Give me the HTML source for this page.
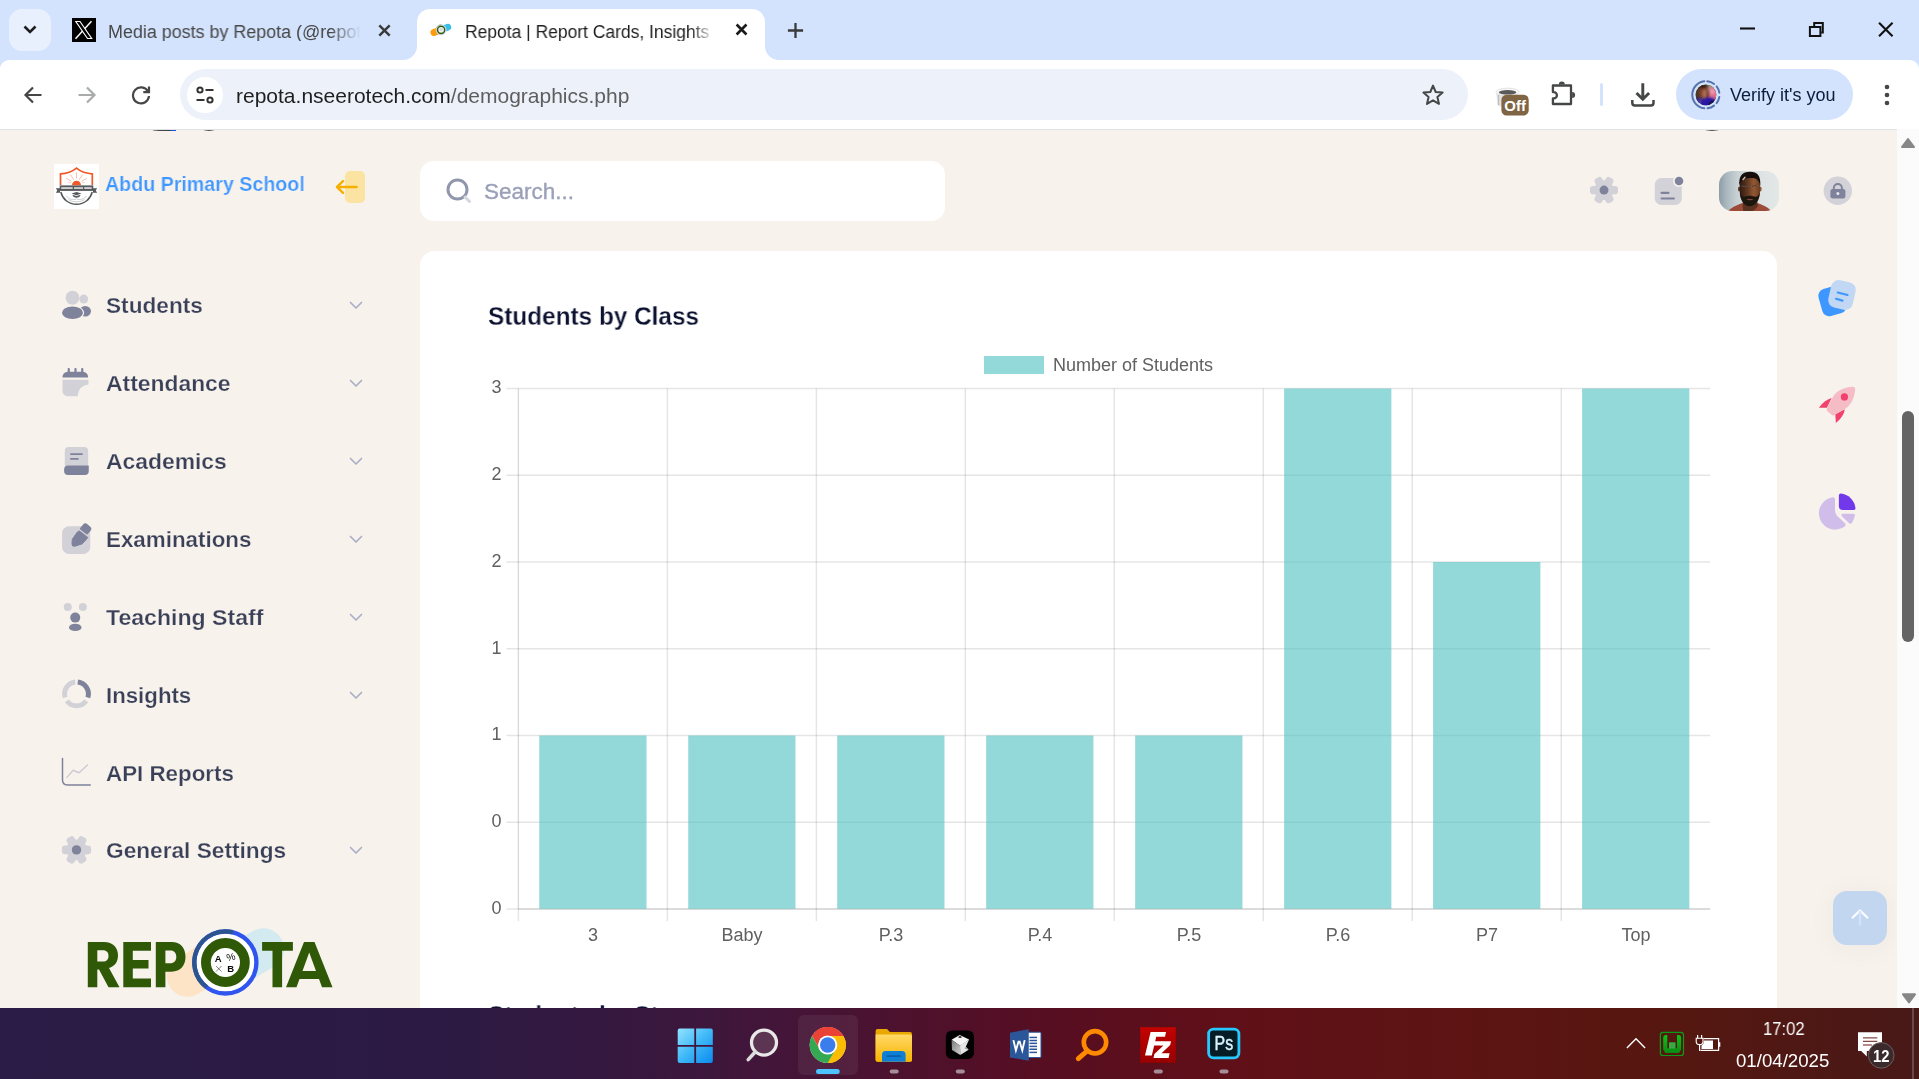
<!DOCTYPE html>
<html>
<head>
<meta charset="utf-8">
<title>Repota</title>
<style>
*{box-sizing:border-box;margin:0;padding:0}
html,body{width:1919px;height:1079px;overflow:hidden;background:#f7f2ec;font-family:"Liberation Sans",sans-serif}
.abs{position:absolute}
#root{position:relative;width:1919px;height:1079px;overflow:hidden}
.t{position:absolute;white-space:nowrap;line-height:1;will-change:transform}
/* chrome */
#tabstrip{left:0;top:0;width:1919px;height:72px;background:#d3e3fd}
#toolbar{left:0;top:60px;width:1919px;height:69px;background:#fff;border-radius:9px 9px 0 0}
#tbline{left:0;top:129px;width:1919px;height:1px;background:#dfe3e2}
#omni{left:180px;top:69px;width:1288px;height:51px;border-radius:26px;background:#edf2fa}
#page{left:0;top:130px;width:1897px;height:878px;background:#f7f2ec;overflow:hidden}
#sbar{left:1897px;top:129px;width:22px;height:879px;background:#fbfbfb}
#taskbar{left:0;top:1008px;width:1919px;height:71px;background:linear-gradient(90deg,#2a1c46 0%,#2c1a43 24%,#37183f 33%,#441538 41%,#4e112c 48%,#570e21 55%,#5f0f18 63%,#5d1413 76%,#561710 87%,#4c1815 96%,#471918 100%)}
.mi{will-change:transform;position:absolute;left:106px;transform-origin:left;font-size:21.5px;font-weight:bold;color:#3a4058;-webkit-text-stroke:.25px #f7f2ec;white-space:nowrap;line-height:1}
.yl{will-change:transform;position:absolute;font-size:18px;color:#606060;line-height:1;white-space:nowrap}
</style>
</head>
<body>
<div id="root">
<!-- TABSTRIP -->
<div class="abs" id="tabstrip"></div>
<div class="abs" id="toolbar"></div>
<div class="abs" id="tbline"></div>
<div class="abs" id="omni"></div>

<!-- tab search button -->
<div class="abs" style="left:9px;top:9px;width:42px;height:42px;border-radius:13px;background:#e9f0fd"></div>
<svg class="abs" style="left:22px;top:23px" width="16" height="14" viewBox="0 0 16 14"><path d="M2.5 3.5 L8 9 L13.5 3.5" fill="none" stroke="#1f1f1f" stroke-width="2.6"/></svg>
<!-- inactive tab -->
<div class="abs" style="left:72px;top:18px;width:24px;height:24px;background:#000"></div>
<svg class="abs" style="left:72px;top:18px" width="24" height="24" viewBox="0 0 24 24"><path d="M19.500 3.200 L3.500 20.800" stroke="#fff" stroke-width="1.450"/><path d="M3.800 3.500 L8 3.500 L19.700 20.500 L15.500 20.500 Z" fill="#000" stroke="#fff" stroke-width="1.150"/></svg>
<div class="t" id="tab1txt" style="left:108px;top:22.800px;font-size:18px;color:#474747;transform:scaleX(.995);transform-origin:left;width:254px;overflow:hidden;-webkit-mask-image:linear-gradient(90deg,#000 88%,transparent 100%)">Media posts by Repota (@repota</div>
<svg class="abs" style="left:376.600px;top:22.500px" width="15" height="15" viewBox="0 0 15 15"><path d="M2.300 2.300 L12.700 12.700 M12.700 2.300 L2.300 12.700" stroke="#3a3a3a" stroke-width="2.450"/></svg>
<!-- active tab -->
<div class="abs" style="left:417px;top:9px;width:348px;height:52px;background:#fff;border-radius:13px 13px 0 0"></div>
<svg class="abs" style="left:403px;top:46px" width="14" height="14" viewBox="0 0 14 14"><path d="M14 0 V14 H0 A14 14 0 0 0 14 0Z" fill="#fff"/></svg>
<svg class="abs" style="left:765px;top:46px" width="14" height="14" viewBox="0 0 14 14"><path d="M0 0 V14 H14 A14 14 0 0 1 0 0Z" fill="#fff"/></svg>
<!-- repota favicon -->
<svg class="abs" style="left:428px;top:18px" width="26" height="24" viewBox="428 18 26 24"><path d="M433.900 32.500 L441 29.800" stroke="#ff9a0a" stroke-width="6.800" stroke-linecap="round"/><path d="M447.900 27.100 L441 29.800" stroke="#37bfe8" stroke-width="6.600" stroke-linecap="round"/><circle cx="441.100" cy="29.800" r="5.100" fill="#fdfdff" stroke="#b7c3f7" stroke-width=".7"/><path d="M436.500 27.600 A5.100 5.100 0 0 1 441.100 24.700" fill="none" stroke="#9ab38a" stroke-width=".7"/><circle cx="441.100" cy="29.800" r="3.600" fill="#f1f1f3" stroke="#2e5c08" stroke-width="1.500"/><circle cx="441.100" cy="29.500" r="1.500" fill="#d5d5da"/></svg>
<div class="t" id="tab2txt" style="left:465px;top:22.800px;font-size:18px;color:#1f1f1f;width:258px;overflow:hidden;transform:scaleX(.97);transform-origin:left;-webkit-mask-image:linear-gradient(90deg,#000 90%,transparent 100%)">Repota | Report Cards, Insights &amp; More</div>
<svg class="abs" style="left:733.500px;top:22.400px" width="15" height="15" viewBox="0 0 15 15"><path d="M2.600 2.550 L12.500 12.450 M12.500 2.550 L2.600 12.450" stroke="#1b1b1b" stroke-width="2.650"/></svg>
<!-- new tab -->
<svg class="abs" style="left:786.500px;top:21.550px" width="17" height="17" viewBox="0 0 17 17"><path d="M8.500 1 V16 M.9 8.500 H16.100" stroke="#3a3a3a" stroke-width="2.300"/></svg>
<!-- window controls -->
<svg class="abs" style="left:1740px;top:27.100px" width="15" height="3" viewBox="0 0 15 3"><path d="M0 1.500 H15" stroke="#111" stroke-width="2.100"/></svg>
<svg class="abs" style="left:1808px;top:21px" width="18" height="18" viewBox="0 0 18 18"><path d="M1.900 5.900 H12.400 V15 H1.900 Z" fill="none" stroke="#111" stroke-width="2"/><path d="M6.200 5 V2 H14.800 V11.600 H13.200" fill="none" stroke="#111" stroke-width="2"/></svg>
<svg class="abs" style="left:1876px;top:21px" width="18" height="18" viewBox="0 0 18 18"><path d="M3.050 1.750 L16.550 15.250 M16.550 1.750 L3.050 15.250" stroke="#111" stroke-width="2.100"/></svg>
<!-- nav buttons -->
<svg class="abs" style="left:23px;top:85px" width="20" height="20" viewBox="0 0 20 20"><path d="M18.5 10 H3 M10 2.5 L2.5 10 L10 17.5" fill="none" stroke="#444746" stroke-width="2.2"/></svg>
<svg class="abs" style="left:77px;top:85px" width="20" height="20" viewBox="0 0 20 20"><path d="M1.5 10 H17 M10 2.5 L17.5 10 L10 17.5" fill="none" stroke="#a9abaa" stroke-width="2.2"/></svg>
<svg class="abs" style="left:131px;top:85px" width="20" height="20" viewBox="0 0 20 20"><path d="M17 6.5 A8 8 0 1 0 18 11" fill="none" stroke="#444746" stroke-width="2.2"/><path d="M18 1.5 V7.2 H12.3" fill="none" stroke="#444746" stroke-width="2.2"/></svg>
<!-- site info -->
<div class="abs" style="left:187px;top:77px;width:36px;height:36px;border-radius:18px;background:#fff"></div>
<svg class="abs" style="left:195px;top:85px" width="20" height="20" viewBox="0 0 20 20"><circle cx="5" cy="5" r="2.6" fill="none" stroke="#333" stroke-width="2"/><path d="M10.5 5 H18.5" stroke="#333" stroke-width="2"/><circle cx="15" cy="15" r="2.6" fill="none" stroke="#333" stroke-width="2"/><path d="M1.5 15 H9.5" stroke="#333" stroke-width="2"/></svg>
<div class="t" id="url" style="left:236px;top:84.700px;font-size:21px;color:#1f1f1f">repota.nseerotech.com<span style="color:#5e5e5e">/demographics.php</span></div>
<!-- star -->
<svg class="abs" style="left:1421px;top:83px" width="24" height="24" viewBox="0 0 24 24"><path d="M12 2.6 L14.7 9 L21.6 9.6 L16.4 14.1 L18 20.9 L12 17.3 L6 20.9 L7.6 14.1 L2.4 9.6 L9.3 9 Z" fill="none" stroke="#444746" stroke-width="2" stroke-linejoin="round"/></svg>
<!-- extension cup w/ Off -->
<svg class="abs" style="left:1490px;top:80px" width="44" height="40" viewBox="1490 80 44 40"><path d="M1496.200 92.500 L1497.500 104.500 Q1498 106.500 1500.500 106.500 H1506 V92.500Z" fill="#e2e2e2"/><path d="M1498.500 95 V105" stroke="#bdbdbd" stroke-width="1.200"/><ellipse cx="1507.600" cy="92.100" rx="11.600" ry="3.900" fill="#fafafa" stroke="#d9d9d9" stroke-width=".8"/><ellipse cx="1507.600" cy="92.300" rx="8.800" ry="2.300" fill="#5a5a5a"/><rect x="1501.400" y="94.700" width="27.300" height="20.800" rx="5.200" fill="#7f6544"/><text x="1515.100" y="110.900" font-family="Liberation Sans" font-weight="bold" font-size="14.500" fill="#fff" text-anchor="middle" textLength="21.600" lengthAdjust="spacingAndGlyphs">Off</text></svg>
<!-- puzzle -->
<svg class="abs" style="left:1546px;top:76px" width="34" height="34" viewBox="1546 76 34 34"><path d="M1552.900 85.500 H1571 V104 H1552.900 V98.300 H1553.800 A3.100 3.100 0 0 0 1553.800 92.100 H1552.900 Z" fill="none" stroke="#444746" stroke-width="2.300" stroke-linejoin="round"/><path d="M1558.800 84.400 A3 3 0 0 1 1564.800 84.400Z" fill="#444746"/><path d="M1572.100 91.900 A3 3 0 0 1 1572.100 97.900Z" fill="#444746"/></svg>
<div class="abs" style="left:1600.400px;top:82.700px;width:3px;height:23.400px;border-radius:2px;background:#d3e3fd"></div>
<!-- download -->
<svg class="abs" style="left:1626px;top:78px" width="34" height="34" viewBox="1626 78 34 34"><path d="M1642.800 83.200 V98 M1636.500 93 L1642.800 99.300 L1649.100 93" fill="none" stroke="#444746" stroke-width="2.900"/><path d="M1632.300 100 V103 Q1632.300 105.400 1634.700 105.400 H1651.100 Q1653.500 105.400 1653.500 103 V100" fill="none" stroke="#444746" stroke-width="2.500"/></svg>
<!-- verify pill -->
<div class="abs" style="left:1676px;top:69px;width:177px;height:51px;border-radius:26px;background:#d3e3fd"></div>
<svg class="abs" style="left:1688px;top:77px" width="36" height="36" viewBox="1688 77 36 36"><defs><clipPath id="cav"><circle cx="1705.900" cy="94.800" r="10.400"/></clipPath><filter id="cavb" x="-20%" y="-20%" width="140%" height="140%"><feGaussianBlur stdDeviation=".9"/></filter></defs><path d="M1707.32 81.27 A13.6 13.6 0 0 1 1714.08 83.94 M1716.62 86.43 A13.6 13.6 0 0 1 1719.33 92.67 M1719.33 96.93 A13.6 13.6 0 0 1 1716.62 103.17 M1714.08 105.66 A13.6 13.6 0 0 1 1707.56 108.30 M1704.24 108.30 A13.6 13.6 0 0 1 1704.24 81.30" fill="none" stroke="#5572ad" stroke-width="2" stroke-linecap="round"/><g clip-path="url(#cav)"><rect x="1694" y="83" width="24" height="24" fill="#4b3a28"/><g filter="url(#cavb)"><rect x="1708" y="83" width="10" height="8" fill="#8d9a7c"/><path d="M1709 87 H1718 V101 H1709Z" fill="#de6f8b"/><circle cx="1712.500" cy="91.500" r="2.500" fill="#ee9aae"/><ellipse cx="1703.600" cy="92" rx="4.300" ry="6.800" fill="#86432f"/><ellipse cx="1704.600" cy="93.500" rx="2" ry="4" fill="#b06e55"/><ellipse cx="1702.500" cy="86.500" rx="3.800" ry="2" fill="#3a1f18"/><path d="M1694 107 V100.500 C1697 97.500 1700 97 1703 99.500 C1706 96.500 1711 96 1716 99.500 V107Z" fill="#2c14a6"/><path d="M1709 102 L1715 100 V107 H1708Z" fill="#12102e"/><path d="M1700 99 L1699.500 104" stroke="#8d8a7a" stroke-width=".8"/></g></g></svg>
<div class="t" id="verify" style="left:1730px;top:86px;font-size:18px;color:#0b1c3c">Verify it's you</div>
<svg class="abs" style="left:1883px;top:83px" width="8" height="24" viewBox="0 0 8 24"><circle cx="4" cy="4" r="2.3" fill="#444746"/><circle cx="4" cy="12" r="2.3" fill="#444746"/><circle cx="4" cy="20" r="2.3" fill="#444746"/></svg>
<!-- PAGE -->
<div class="abs" id="page"></div>

<!-- SIDEBAR -->
<div class="abs" style="left:54px;top:164px;width:45px;height:45px;background:#fff"></div>
<svg class="abs" style="left:54px;top:164px" width="45" height="45" viewBox="54 164 45 45"><g fill="none">
<path d="M60.500 185 V173.800 C67 173.700 72.500 171.500 76.500 168.200 C80.500 171.500 86 173.700 92.300 173.800 V185" stroke="#f05a28" stroke-width="1.700"/>
<g stroke="#f6a486" stroke-width=".7"><path d="M76.500 172.500 V178.500"/><path d="M70.500 174.500 L73.800 179.800"/><path d="M82.500 174.500 L79.200 179.800"/><path d="M66.200 178.300 L71.500 181.200"/><path d="M86.800 178.300 L81.500 181.200"/><path d="M68 182.500 L71 182.800 M85 182.500 L82 182.800" stroke-width=".5"/></g>
<path d="M60.800 192 C62.500 199 68.500 204.300 76.500 204.300 C84.500 204.300 90.500 199 92.200 192" stroke="#55585a" stroke-width="1.500"/>
<g stroke="#b9babb" stroke-width=".7"><path d="M66.500 196 C69 199.500 73 200 76.500 199 C80 200 84 199.500 86.500 196"/><path d="M68.500 199.500 C71.500 202.500 81.500 202.500 84.500 199.500"/></g>
</g>
<path d="M72 185.300 A4.500 4.500 0 0 1 81 185.300Z" fill="#f05a28"/>
<path d="M55.800 188.300 H60 V192.800 H55.800 L57.300 190.500Z M97.200 188.300 H93 V192.800 H97.200 L95.700 190.500Z" fill="#55585a"/>
<rect x="59.700" y="185.400" width="33.600" height="5.500" fill="#56595b"/>
<rect x="61.200" y="187.200" width="11.500" height="1.700" fill="#dcdcdc"/><rect x="74" y="187.200" width="9" height="1.700" fill="#d6d6d6"/><rect x="84.200" y="187.200" width="7.500" height="1.700" fill="#dcdcdc"/>
<path d="M71.500 193.600 L76.500 192 L81.500 193.600 L76.500 195.300Z" fill="#55585a"/><path d="M72.500 194.800 C72.800 197 74.500 197.800 76.500 197.800 C78.500 197.800 80.200 197 80.500 194.800 L76.500 196Z" fill="#5d6062"/>
</svg>
<div class="t" id="school" style="left:105px;top:173.800px;font-size:20.200px;font-weight:bold;color:#3e97ff;-webkit-text-stroke:.2px #f7f2ec;transform:scaleX(.973);transform-origin:left">Abdu Primary School</div>
<div class="abs" style="left:345px;top:171px;width:20px;height:32px;border-radius:5px;background:#fbe3a1"></div>
<svg class="abs" style="left:334px;top:177px" width="26" height="20" viewBox="0 0 26 20"><path d="M22.500 10 H3.500 M9 4.200 L3 10 L9 15.800" fill="none" stroke="#f6b100" stroke-width="2.500" stroke-linecap="round" stroke-linejoin="round"/></svg>
<div class="mi" style="top:295.7px;transform:scaleX(1.053)">Students</div>
<svg class="abs" style="left:349px;top:301px" width="14" height="9" viewBox="0 0 14 9"><path d="M1.5 1.5 L7 7 L12.5 1.5" fill="none" stroke="#a9afc6" stroke-width="1.7" stroke-linecap="round" stroke-linejoin="round"/></svg>
<div class="mi" style="top:373.7px;transform:scaleX(1.064)">Attendance</div>
<svg class="abs" style="left:349px;top:379px" width="14" height="9" viewBox="0 0 14 9"><path d="M1.5 1.5 L7 7 L12.5 1.5" fill="none" stroke="#a9afc6" stroke-width="1.7" stroke-linecap="round" stroke-linejoin="round"/></svg>
<div class="mi" style="top:451.7px;transform:scaleX(1.064)">Academics</div>
<svg class="abs" style="left:349px;top:457px" width="14" height="9" viewBox="0 0 14 9"><path d="M1.5 1.5 L7 7 L12.5 1.5" fill="none" stroke="#a9afc6" stroke-width="1.7" stroke-linecap="round" stroke-linejoin="round"/></svg>
<div class="mi" style="top:529.7px;transform:scaleX(1.040)">Examinations</div>
<svg class="abs" style="left:349px;top:535px" width="14" height="9" viewBox="0 0 14 9"><path d="M1.5 1.5 L7 7 L12.5 1.5" fill="none" stroke="#a9afc6" stroke-width="1.7" stroke-linecap="round" stroke-linejoin="round"/></svg>
<div class="mi" style="top:607.7px;transform:scaleX(1.074)">Teaching Staff</div>
<svg class="abs" style="left:349px;top:613px" width="14" height="9" viewBox="0 0 14 9"><path d="M1.5 1.5 L7 7 L12.5 1.5" fill="none" stroke="#a9afc6" stroke-width="1.7" stroke-linecap="round" stroke-linejoin="round"/></svg>
<div class="mi" style="top:685.7px;transform:scaleX(1.034)">Insights</div>
<svg class="abs" style="left:349px;top:691px" width="14" height="9" viewBox="0 0 14 9"><path d="M1.5 1.5 L7 7 L12.5 1.5" fill="none" stroke="#a9afc6" stroke-width="1.7" stroke-linecap="round" stroke-linejoin="round"/></svg>
<div class="mi" style="top:763.7px;transform:scaleX(1.039)">API Reports</div>
<div class="mi" style="top:840.7px;transform:scaleX(1.054)">General Settings</div>
<svg class="abs" style="left:349px;top:846px" width="14" height="9" viewBox="0 0 14 9"><path d="M1.5 1.5 L7 7 L12.5 1.5" fill="none" stroke="#a9afc6" stroke-width="1.7" stroke-linecap="round" stroke-linejoin="round"/></svg>

<!-- students icon -->
<svg class="abs" style="left:60px;top:289px" width="34" height="34" viewBox="0 0 34 34"><circle cx="23.75" cy="10.1" r="4.5" fill="#d3d1d8"/><ellipse cx="25.2" cy="22.3" rx="5.8" ry="5.2" fill="#7e829a"/><ellipse cx="12.5" cy="23.75" rx="11.6" ry="7.2" fill="#f7f2ec"/><circle cx="12.5" cy="8.75" r="6.9" fill="#d3d1d8"/><ellipse cx="12.5" cy="23.75" rx="10.5" ry="6.2" fill="#7e829a"/></svg>
<!-- attendance icon -->
<svg class="abs" style="left:60px;top:366px" width="34" height="34" viewBox="0 0 34 34"><path d="M2.5 13.75 H28.5 V18.5 C21.5 19.5 18.500 23 17.75 30.25 H8 A5.5 5.5 0 0 1 2.5 24.75Z" fill="#d3d1d8"/><path d="M2.5 11.6 V11 A5.200 5.200 0 0 1 7.700 5.8 H22.900 A5.200 5.200 0 0 1 28.100 11 V11.600Z" fill="#7e829a"/><rect x="7.650" y="2.100" width="2.200" height="5" rx=".8" fill="#7e829a"/><rect x="14.400" y="2.100" width="2.200" height="5" rx=".8" fill="#7e829a"/><rect x="21.150" y="2.100" width="2.200" height="5" rx=".8" fill="#7e829a"/></svg>
<!-- academics icon -->
<svg class="abs" style="left:60px;top:444px" width="34" height="34" viewBox="0 0 34 34"><rect x="4.750" y="3" width="23.400" height="21" rx="4" fill="#d3d1d8"/><path d="M4.100 25.400 Q4.100 21.400 8.100 21.400 H28.750 V27 A4 4 0 0 1 24.750 31 H8.100 A4 4 0 0 1 4.100 27Z" fill="#7e829a"/><rect x="10" y="9.150" width="12.900" height="1.900" rx=".95" fill="#7e829a"/><rect x="10" y="13.950" width="8.750" height="1.900" rx=".95" fill="#7e829a"/></svg>
<!-- examinations icon -->
<svg class="abs" style="left:60px;top:522px" width="34" height="34" viewBox="0 0 34 34"><rect x="2.100" y="4.250" width="28.150" height="27.850" rx="7.200" fill="#d3d1d8"/><rect x="20.700" y="2.200" width="9.800" height="9.800" rx="3.200" fill="#7e829a" transform="rotate(40 25.600 7.100)"/><path d="M17.200 10.300 L19.800 8.600 L28.200 15.200 L22.300 21.800 L14.600 24.300 Q12 24.600 12 22 L12.300 17.300Z" fill="#7e829a" stroke="#7e829a" stroke-width="1" stroke-linejoin="round"/><path d="M19 7.300 L29.500 15.600" stroke="#d3d1d8" stroke-width="1.300"/></svg>
<!-- teaching staff icon -->
<svg class="abs" style="left:60px;top:600px" width="34" height="34" viewBox="0 0 34 34"><circle cx="7.750" cy="7" r="4" fill="#d3d1d8"/><circle cx="22.900" cy="7" r="4" fill="#d3d1d8"/><circle cx="15.250" cy="17.600" r="5" fill="#7e829a"/><ellipse cx="15.250" cy="27.400" rx="6.250" ry="3.700" fill="#7e829a"/></svg>
<!-- insights icon -->
<svg class="abs" style="left:60px;top:678px" width="34" height="34" viewBox="0 0 34 34"><g fill="none" stroke-width="5"><path d="M17.74 4.07 A11.9 11.9 0 0 1 27.82 19.58" stroke="#7e829a"/><path d="M26.13 22.89 A11.9 11.9 0 0 1 6.87 22.89" stroke="#d3d1d8"/><path d="M5.18 19.58 A11.9 11.9 0 0 1 15.26 4.07" stroke="#d3d1d8"/></g></svg>
<!-- api reports icon -->
<svg class="abs" style="left:60px;top:756px" width="34" height="34" viewBox="0 0 34 34"><path d="M2.500 2.600 V24 Q2.500 28.900 7.500 28.900 H30.250" fill="none" stroke="#7e829a" stroke-width="1.500" stroke-linecap="round"/><path d="M6.900 21.400 L13.100 14.250 L19 16.750 L27.500 8.900" fill="none" stroke="#cdcbd3" stroke-width="1.400" stroke-linecap="round" stroke-linejoin="round"/></svg>
<!-- settings icon -->
<svg class="abs" style="left:60px;top:833px" width="34" height="34" viewBox="0 0 34 34"><g transform="translate(16.500 16.900)"><g transform="rotate(30)"><g fill="#d3d1d8"><circle r="10.3"/><g id="tg"><rect x="-4.3" y="-14.6" width="8.6" height="8" rx="3.2"/></g><use href="#tg" transform="rotate(60)"/><use href="#tg" transform="rotate(120)"/><use href="#tg" transform="rotate(180)"/><use href="#tg" transform="rotate(240)"/><use href="#tg" transform="rotate(300)"/></g></g><circle r="4.7" fill="#7e829a"/></g></svg>
<!-- HEADER -->
<div class="abs" style="left:420px;top:161px;width:525px;height:60px;border-radius:14px;background:#fff"></div>
<svg class="abs" style="left:445px;top:177px" width="28" height="28" viewBox="0 0 28 28"><circle cx="12.500" cy="12.500" r="9.500" fill="none" stroke="#9097ad" stroke-width="3"/><path d="M20 20 L24.500 24.500" stroke="#d5d7e0" stroke-width="3" stroke-linecap="round"/></svg>
<div class="t" id="search" style="left:484px;top:181px;font-size:22.5px;color:#9aa0b8;-webkit-text-stroke:.35px #9aa0b8">Search...</div>
<!-- CARD -->
<div class="abs" style="left:420px;top:251px;width:1357px;height:800px;border-radius:14.500px;background:#fff"></div>
<div class="t" id="title" style="left:488px;top:303.800px;font-size:25px;font-weight:bold;color:#0c1230;-webkit-text-stroke:.28px #fff;transform:scaleX(.9735);transform-origin:left">Students by Class</div>
<div class="t" id="title2" style="left:488px;top:1003.400px;font-size:25px;font-weight:bold;color:#0c1230;-webkit-text-stroke:.28px #fff;transform:scaleX(.9735);transform-origin:left">Students by Stream</div>
<!-- legend -->
<div class="abs" style="left:984px;top:356px;width:60px;height:18px;background:#93d9d9"></div>
<div class="yl" id="legend" style="left:1053px;top:355.700px">Number of Students</div>
<svg class="abs" style="left:0;top:0" width="1919" height="1079" viewBox="0 0 1919 1079">
<rect x="506.4" y="387.75" width="1203.8000000000002" height="1.5" fill="rgba(0,0,0,0.1)"/>
<rect x="506.4" y="474.50" width="1203.8000000000002" height="1.5" fill="rgba(0,0,0,0.1)"/>
<rect x="506.4" y="561.25" width="1203.8000000000002" height="1.5" fill="rgba(0,0,0,0.1)"/>
<rect x="506.4" y="648.00" width="1203.8000000000002" height="1.5" fill="rgba(0,0,0,0.1)"/>
<rect x="506.4" y="734.75" width="1203.8000000000002" height="1.5" fill="rgba(0,0,0,0.1)"/>
<rect x="506.4" y="821.50" width="1203.8000000000002" height="1.5" fill="rgba(0,0,0,0.1)"/>
<rect x="506.4" y="908.25" width="1203.8000000000002" height="1.5" fill="rgba(0,0,0,0.1)"/>
<rect x="517.65" y="388.5" width="1.5" height="532.5" fill="rgba(0,0,0,0.1)"/>
<rect x="666.62" y="388.5" width="1.5" height="532.5" fill="rgba(0,0,0,0.1)"/>
<rect x="815.60" y="388.5" width="1.5" height="532.5" fill="rgba(0,0,0,0.1)"/>
<rect x="964.58" y="388.5" width="1.5" height="532.5" fill="rgba(0,0,0,0.1)"/>
<rect x="1113.55" y="388.5" width="1.5" height="532.5" fill="rgba(0,0,0,0.1)"/>
<rect x="1262.53" y="388.5" width="1.5" height="532.5" fill="rgba(0,0,0,0.1)"/>
<rect x="1411.50" y="388.5" width="1.5" height="532.5" fill="rgba(0,0,0,0.1)"/>
<rect x="1560.48" y="388.5" width="1.5" height="532.5" fill="rgba(0,0,0,0.1)"/>
<rect x="518.4" y="908.25" width="1191.8000000000002" height="1.5" fill="rgba(0,0,0,0.1)"/>
<rect x="517.65" y="388.5" width="1.5" height="520.5" fill="rgba(0,0,0,0.05)"/>
<rect x="539.26" y="735.50" width="107.26" height="173.30" fill="rgba(75,192,192,0.6)"/>
<rect x="688.23" y="735.50" width="107.26" height="173.30" fill="rgba(75,192,192,0.6)"/>
<rect x="837.21" y="735.50" width="107.26" height="173.30" fill="rgba(75,192,192,0.6)"/>
<rect x="986.18" y="735.50" width="107.26" height="173.30" fill="rgba(75,192,192,0.6)"/>
<rect x="1135.16" y="735.50" width="107.26" height="173.30" fill="rgba(75,192,192,0.6)"/>
<rect x="1284.13" y="388.50" width="107.26" height="520.30" fill="rgba(75,192,192,0.6)"/>
<rect x="1433.11" y="562.00" width="107.26" height="346.80" fill="rgba(75,192,192,0.6)"/>
<rect x="1582.08" y="388.50" width="107.26" height="520.30" fill="rgba(75,192,192,0.6)"/>
</svg>
<div class="yl" style="left:532.9px;width:120px;text-align:center;top:925.6px">3</div>
<div class="yl" style="left:681.9px;width:120px;text-align:center;top:925.6px">Baby</div>
<div class="yl" style="left:830.8px;width:120px;text-align:center;top:925.6px">P.3</div>
<div class="yl" style="left:979.8px;width:120px;text-align:center;top:925.6px">P.4</div>
<div class="yl" style="left:1128.8px;width:120px;text-align:center;top:925.6px">P.5</div>
<div class="yl" style="left:1277.8px;width:120px;text-align:center;top:925.6px">P.6</div>
<div class="yl" style="left:1426.7px;width:120px;text-align:center;top:925.6px">P7</div>
<div class="yl" style="left:1575.7px;width:120px;text-align:center;top:925.6px">Top</div>
<div class="yl" style="left:440px;width:61.6px;text-align:right;top:378.4px">3</div>
<div class="yl" style="left:440px;width:61.6px;text-align:right;top:465.1px">2</div>
<div class="yl" style="left:440px;width:61.6px;text-align:right;top:551.9px">2</div>
<div class="yl" style="left:440px;width:61.6px;text-align:right;top:638.6px">1</div>
<div class="yl" style="left:440px;width:61.6px;text-align:right;top:725.4px">1</div>
<div class="yl" style="left:440px;width:61.6px;text-align:right;top:812.1px">0</div>
<div class="yl" style="left:440px;width:61.6px;text-align:right;top:898.9px">0</div>
<!-- HEADER RIGHT ICONS -->
<svg class="abs" style="left:1587px;top:173px" width="34" height="34" viewBox="0 0 34 34"><g transform="translate(17 17.100) scale(.96)"><g transform="rotate(30)"><g fill="#d3d1d8"><circle r="10.3"/><g id="tg2"><rect x="-4.3" y="-14.6" width="8.6" height="8" rx="3.2"/></g><use href="#tg2" transform="rotate(60)"/><use href="#tg2" transform="rotate(120)"/><use href="#tg2" transform="rotate(180)"/><use href="#tg2" transform="rotate(240)"/><use href="#tg2" transform="rotate(300)"/></g></g><circle r="4.7" fill="#7e829a"/></g></svg>
<svg class="abs" style="left:1650px;top:172px" width="38" height="38" viewBox="0 0 38 38"><rect x="4.800" y="6" width="27" height="27" rx="6.500" fill="#d4d2d9"/><circle cx="29" cy="9" r="6" fill="#f7f2ec"/><circle cx="29" cy="9" r="4.300" fill="#7e829a"/><rect x="10.500" y="19.800" width="9" height="2.200" rx="1.100" fill="#7e829a"/><rect x="10.500" y="25.400" width="14.500" height="2.200" rx="1.100" fill="#7e829a"/></svg>
<!-- avatar -->
<svg class="abs" style="left:1719px;top:171px" width="60" height="40" viewBox="1719 171 60 40"><defs><clipPath id="avc"><rect x="1719" y="171" width="60" height="40" rx="13.500"/></clipPath><linearGradient id="avg" x1="0" x2="1"><stop offset="0" stop-color="#8c9da6"/><stop offset=".12" stop-color="#a9b7bd"/><stop offset=".3" stop-color="#c7d1d4"/><stop offset=".6" stop-color="#dbe2e3"/><stop offset="1" stop-color="#e3e7e6"/></linearGradient><linearGradient id="skn" x1="0" x2="1"><stop offset="0" stop-color="#2e1a12"/><stop offset=".35" stop-color="#5c3521"/><stop offset=".7" stop-color="#935933"/><stop offset="1" stop-color="#6a3c22"/></linearGradient><filter id="avb" x="-10%" y="-10%" width="120%" height="120%"><feGaussianBlur stdDeviation=".45"/></filter></defs>
<g clip-path="url(#avc)"><rect x="1719" y="171" width="60" height="40" fill="url(#avg)"/><g filter="url(#avb)">
<path d="M1727 212 C1731 207.500 1736 205.500 1741.500 203.300 L1758 203.300 C1764 205.500 1768.500 207.500 1772 212Z" fill="#9c4c37"/>
<path d="M1743 200 H1757 L1758 206 C1756 209.500 1752 211.500 1750 212 L1743.500 212 C1742.500 208 1742.500 204 1743 200Z" fill="#5a3320"/>
<ellipse cx="1739.300" cy="189" rx="1.300" ry="2.600" fill="#5b3422"/><ellipse cx="1760.400" cy="189" rx="1.200" ry="2.600" fill="#8a5231"/>
<path d="M1739.800 184 C1739.800 176 1744 174.500 1749.800 174.500 C1755.600 174.500 1760 176 1760 184 V192 C1760 200 1755.500 206 1749.800 206 C1744.200 206 1739.800 200 1739.800 192Z" fill="url(#skn)"/>
<path d="M1739.300 186 C1738.500 176 1742.500 171.800 1750 171.800 C1757.500 171.800 1761 176 1760.300 186 C1759.500 181.500 1757.500 179 1754.500 178.300 C1751 177.600 1746 178.200 1743.500 179.300 C1741 180.800 1740 183 1739.300 186Z" fill="#17110f"/>
<path d="M1740 192 C1740.500 201 1744.500 206.300 1749.800 206.300 C1755.200 206.300 1759.300 201 1759.800 192 C1758.500 196.500 1756.500 197.300 1754.500 196.600 C1752.500 196 1751 195.800 1749.800 195.800 C1748.500 195.800 1747 196 1745 196.600 C1743 197.300 1741.300 196.500 1740 192Z" fill="#1c1310"/>
<path d="M1746.300 199.300 C1748.500 198.500 1751.500 198.500 1753.500 199.300 C1752 200.600 1748 200.600 1746.300 199.300Z" fill="#7a4a36"/>
<path d="M1742.300 186.600 C1743.500 185.700 1746.500 185.700 1747.800 186.600 M1752 186.600 C1753.300 185.700 1756.300 185.700 1757.600 186.600" fill="none" stroke="#1a100c" stroke-width="1"/>
<path d="M1741.500 186.200 H1748.300 M1751.500 186.200 H1758.500" stroke="#cdbfae" stroke-width=".5" opacity=".7"/>
<path d="M1743 179.500 L1745 177.300" stroke="#e5e0da" stroke-width="1.300" stroke-linecap="round" opacity=".85"/>
</g></g></svg>
<!-- lock -->
<svg class="abs" style="left:1823px;top:176px" width="30" height="30" viewBox="0 0 30 30"><circle cx="14.800" cy="14.800" r="14.200" fill="#d4d2d9"/><path d="M10.800 14 V12 A4.050 4.050 0 0 1 18.900 12 V14" fill="none" stroke="#7e829a" stroke-width="2"/><rect x="7.400" y="13" width="15" height="9.600" rx="2.300" fill="#7e829a"/><circle cx="14.900" cy="17.600" r="1.500" fill="#eceaee"/></svg>
<!-- RIGHT RAIL -->
<svg class="abs" style="left:1814px;top:276px" width="46" height="46" viewBox="0 0 46 46"><rect x="6" y="11" width="25" height="28" rx="7" fill="#3e97ff" transform="rotate(-16 18.500 25)"/><rect x="15.500" y="5" width="25" height="28" rx="7.500" fill="#c1d7f3" transform="rotate(13 28 19)"/><path d="M23.800 16.500 L33.500 19" stroke="#3e97ff" stroke-width="2.200" stroke-linecap="round"/><path d="M22 22.800 L28.500 24.600" stroke="#3e97ff" stroke-width="2.200" stroke-linecap="round"/></svg>
<svg class="abs" style="left:1814px;top:382px" width="46" height="46" viewBox="1814 382 46 46"><path d="M1818.900 407.800 C1822.500 402.800 1826.500 399.500 1831.700 398.100 L1826.900 407.800Z" fill="#f1416c"/><path d="M1835.300 414.200 L1844.700 409.200 C1844.300 414 1841 418.500 1835.900 422.900Z" fill="#f1416c"/><path d="M1853.200 386.700 C1848 386.600 1841.500 388.600 1837 392 C1834.800 393.800 1833.500 395.800 1832.500 397.700 L1826.900 408.600 Q1826.300 409.900 1827.300 410.900 L1831.800 415.100 Q1832.800 415.900 1834 415.300 L1845.600 408.500 C1849.500 405.500 1852.300 402.200 1853.700 397 C1854.500 394 1855.200 391 1855.100 388.700 Q1855 386.800 1853.200 386.700Z" fill="#f5bcc6"/><circle cx="1844.400" cy="396.900" r="3.600" fill="#f1416c"/></svg>
<svg class="abs" style="left:1814px;top:489px" width="46" height="46" viewBox="1814 489 46 46"><path d="M1832.500 497.300 Q1835 496.900 1835 499.500 V509.500 C1835 513 1836 515 1838 516.800 L1844.700 522.900 Q1846.500 524.700 1844.600 526.400 A16.200 16.200 0 1 1 1832.500 497.300Z" fill="#d0bdea"/><path d="M1838.900 495.400 Q1838.900 493.500 1840.800 493.600 A16.500 16.500 0 0 1 1855.500 508 Q1855.700 509.900 1853.800 509.900 H1842.600 Q1838.900 509.900 1838.900 506.200Z" fill="#7239ea"/><path d="M1842.800 513.800 H1853.500 Q1855.200 513.800 1854.900 515.500 A16.200 16.200 0 0 1 1851.800 523 Q1850.600 524.500 1849.200 523.200 L1841.900 516.300 Q1840.600 513.800 1842.800 513.800Z" fill="#d0bdea"/></svg>
<!-- scroll top button -->
<div class="abs" style="left:1833px;top:891px;width:54px;height:54px;border-radius:14px;background:#c2d6f0;box-shadow:0 3px 28px rgba(60,50,40,.05)"></div>
<svg class="abs" style="left:1848.500px;top:906.800px" width="22" height="24" viewBox="0 0 22 24"><path d="M3.700 10.500 L11 3.500 L18.300 10.500" fill="none" stroke="#fafcff" stroke-width="2.400" stroke-linecap="round" stroke-linejoin="round"/><path d="M11 5 V17.500" stroke="#d3e2f6" stroke-width="2.400" stroke-linecap="round"/></svg>
<!-- top remnants -->
<div class="abs" style="left:0;top:130px;width:1897px;height:1px;background:#f3f1ee"></div>
<div class="abs" style="left:153px;top:130px;width:23px;height:1px;background:linear-gradient(90deg,#a9abb5 0,#474b52 25%,#3a3e45 78%,#1a56e0 79%,#1a56e0 100%)"></div>
<div class="abs" style="left:204px;top:130px;width:10px;height:1px;background:linear-gradient(90deg,#c8c8c8,#4a4e55 50%,#c8c8c8)"></div>
<div class="abs" style="left:1706px;top:130px;width:12px;height:1px;background:linear-gradient(90deg,#c8c8c8,#4a4e55 50%,#c8c8c8)"></div>

<!-- REPOTA LOGO -->
<svg class="abs" style="left:80px;top:915px" width="260" height="92" viewBox="80 915 260 92">
<path d="M187.500 975.900 L228.900 952" stroke="#fde4c6" stroke-width="41.600" stroke-linecap="round"/>
<path d="M263.300 949.100 L221.900 973" stroke="#d3ebf0" stroke-width="41.600" stroke-linecap="round"/>
<circle cx="225.400" cy="962.500" r="31" fill="#fff" stroke="#2f55ee" stroke-width="4.300"/>
<path d="M206.700 987.300 A31 31 0 0 1 232.900 932.400" fill="none" stroke="#2c5590" stroke-width="4.300"/>
<circle cx="225.400" cy="962.500" r="19.500" fill="#fff" stroke="#2f5907" stroke-width="9.800"/>
<g fill="#2f5907">
<path d="M87.800 942 H104 C113 942 118 947.500 118 955.500 C118 962 114.500 966.500 109 968 L119.500 987.300 H108.500 L99 969.500 H97.300 V987.300 H87.800 Z M97.300 950.300 V961.500 H103 C106.500 961.500 108.500 959.300 108.500 955.900 C108.500 952.500 106.500 950.300 103 950.300 Z" fill-rule="evenodd"/>
<path d="M123.300 942 H151 V950.800 H132.800 V960 H148.500 V968.600 H132.800 V978.500 H151 V987.300 H123.300 Z"/>
<path d="M155.800 942 H171.500 C180.500 942 185.500 948 185.500 956.800 C185.500 965.600 180.500 971.700 171.500 971.700 H165.400 V987.300 H155.800 Z M165.400 950.600 V963.200 H170.500 C174.200 963.200 176.300 960.700 176.300 956.900 C176.300 953.100 174.200 950.600 170.500 950.600 Z" fill-rule="evenodd"/>
<path d="M262.100 942 H292.900 V950.800 H282.100 V987.300 H272.500 V950.800 H262.100 Z"/>
<path d="M304 942 H314.500 L332.500 987.300 H322 L319 979 H299.500 L296.500 987.300 H286 Z M309.200 952.500 L302.500 971 H316 Z" fill-rule="evenodd"/>
</g>
<g font-family="Liberation Sans" fill="#0a0a0a"><text x="218.300" y="961.600" font-weight="bold" font-size="9.500" text-anchor="middle">A</text><text x="230.600" y="972.200" font-weight="bold" font-size="9.500" text-anchor="middle">B</text><text x="230.900" y="960.300" font-size="10" text-anchor="middle" transform="rotate(-12 230.900 957)">%</text></g>
<path d="M216 966 L221.500 971.600 M221.500 966 L216 971.600" stroke="#222" stroke-width=".55"/>
</svg>
<div class="abs" id="sbar"></div>

<svg class="abs" style="left:1900.400px;top:136.200px" width="16" height="13" viewBox="0 0 16 13"><path d="M2 11 L8 3 L14 11Z" fill="#878787" stroke="#878787" stroke-width="2" stroke-linejoin="round"/></svg>
<svg class="abs" style="left:1900.700px;top:991.500px" width="16" height="13" viewBox="0 0 16 13"><path d="M2 2.300 L8 10.500 L14 2.300Z" fill="#878787" stroke="#878787" stroke-width="2" stroke-linejoin="round"/></svg>
<div class="abs" style="left:1902px;top:411px;width:12px;height:231px;border-radius:6px;background:#646464"></div>
<!-- TASKBAR -->
<div class="abs" id="taskbar"></div>

<!-- TASKBAR ICONS -->
<svg class="abs" style="left:0;top:1007px" width="1919" height="72" viewBox="0 1007 1919 72">
<defs>
<linearGradient id="wg" x1="0" y1="0" x2="1" y2="1"><stop offset="0" stop-color="#93e4ff"/><stop offset=".5" stop-color="#3fb8f7"/><stop offset="1" stop-color="#0a8af0"/></linearGradient>
<linearGradient id="fg" x1="0" y1="0" x2="0" y2="1"><stop offset="0" stop-color="#ffd867"/><stop offset="1" stop-color="#f7b500"/></linearGradient>
</defs>
<!-- windows -->
<g fill="url(#wg)"><path d="M677.700 1030.600 Q677.700 1028.600 679.700 1028.600 H694.300 V1044.900 H677.700Z M696.100 1028.600 H710.800 Q712.800 1028.600 712.800 1030.600 V1044.900 H696.100Z M677.700 1046.700 H694.300 V1063 H679.700 Q677.700 1063 677.700 1061Z M696.100 1046.700 H712.800 V1061 Q712.800 1063 710.800 1063 H696.100Z"/></g>
<!-- search -->
<circle cx="764" cy="1042.600" r="12.500" fill="#5b3551" stroke="#e9e9e9" stroke-width="3.300"/><path d="M755.200 1052 L748.200 1059.600" stroke="#dcdcdc" stroke-width="3.600" stroke-linecap="round"/>
<!-- chrome bg -->
<rect x="798" y="1015" width="60" height="60" rx="6" fill="rgba(255,255,255,0.062)"/>
<g transform="translate(827.700 1045)">
<circle r="18" fill="#fff"/>
<path d="M-15.590 -9 A18 18 0 0 1 15.590 -9 L0 -9 Z" fill="#ea4335"/>
<path d="M0 -9 L15.590 -9 A18 18 0 0 1 0 18 L7.800 4.500 A9 9 0 0 0 0 -9Z" fill="#fbbc04"/>
<path d="M15.590 -9 A18 18 0 0 1 0 18 L7.800 4.500 Z" fill="#fbbc04"/>
<path d="M-15.590 -9 L-7.800 4.500 A9 9 0 0 0 7.800 4.500 L0 18 A18 18 0 0 1 -15.590 -9Z" fill="#34a853"/>
<path d="M-15.590 -9 A18 18 0 0 1 15.590 -9 L0 -9 A9 9 0 0 0 -7.800 4.500Z" fill="#ea4335"/>
<circle r="9.600" fill="#fff"/><circle r="7.700" fill="#3b7ded"/>
</g>
<rect x="816" y="1069" width="23.700" height="5" rx="2.500" fill="#4cc2ff"/>
<!-- folder -->
<path d="M875.600 1031 Q875.600 1029 877.600 1029 H887 L890 1032 H910 Q912 1032 912 1034 V1060 Q912 1061.700 910 1061.700 H877.600 Q875.600 1061.700 875.600 1060Z" fill="#e8a800"/>
<path d="M875.600 1034.500 H910 Q912 1034.500 912 1036.500 V1060 Q912 1061.700 910 1061.700 H877.600 Q875.600 1061.700 875.600 1060Z" fill="url(#fg)"/>
<path d="M882 1061.700 V1054.500 Q882 1051 885.500 1051 H902 Q905.600 1051 905.600 1054.500 V1061.700Z" fill="#0f7fd6"/>
<rect x="886.500" y="1055.200" width="14.600" height="1.800" rx=".9" fill="#0a5fa8"/>
<rect x="889.700" y="1069.500" width="9" height="4" rx="2" fill="#a58d98"/>
<!-- cube app -->
<defs><linearGradient id="cbl" x1="0" y1="0" x2="1" y2="1"><stop offset="0" stop-color="#7d7d7d"/><stop offset="1" stop-color="#cfcfcf"/></linearGradient></defs>
<rect x="945.900" y="1030.500" width="28.100" height="28.400" rx="6" fill="#020202"/>
<path d="M951.600 1039.700 L959.700 1034.900 L969.100 1039.400 L962.300 1044.600 L959.800 1045.600Z" fill="#f4f4f4"/>
<path d="M957.800 1037.300 L960 1035.700 L962.300 1037.300 L960 1038Z" fill="#2a2a2a"/>
<path d="M951.600 1039.900 L960 1045.500 L960.300 1054.900 L952 1049.900Z" fill="url(#cbl)"/>
<path d="M960 1045.500 L969.100 1039.400 L965.800 1046.800 L968.600 1049.800 L960.300 1054.900Z" fill="#e6e6e6"/>
<path d="M965.800 1046.800 L968.600 1049.800 L964.500 1048.500Z" fill="#9a9a9a"/>
<rect x="955.800" y="1069.500" width="9" height="4" rx="2" fill="#a58d98"/>
<!-- word -->
<rect x="1026" y="1032.200" width="15" height="25.300" rx="1.200" fill="#fff" stroke="#2b579a" stroke-width="1"/>
<g fill="#2b579a"><rect x="1029.500" y="1036.700" width="7.500" height="1.500"/><rect x="1029.500" y="1039.750" width="7.500" height="1.500"/><rect x="1029.500" y="1042.600" width="7.500" height="1.500"/><rect x="1029.500" y="1045.650" width="7.500" height="1.500"/><rect x="1029.500" y="1048.500" width="7.500" height="1.500"/><rect x="1029.500" y="1051.650" width="7.500" height="1.500"/></g>
<path d="M1010 1032.700 L1028.750 1029.250 V1060.800 L1010 1057.400Z" fill="#2b579a"/>
<path d="M1013.400 1040.100 L1015.900 1050.400 L1018.500 1041.800 H1019.700 L1022.300 1050.400 L1024.700 1040.100" fill="none" stroke="#fff" stroke-width="1.900" stroke-linejoin="miter"/>
<!-- orange search -->
<circle cx="1095" cy="1042.300" r="11.200" fill="none" stroke="#ff8a00" stroke-width="4.600"/><path d="M1087 1051 L1078.300 1058.700" stroke="#ff8a00" stroke-width="5" stroke-linecap="round"/>
<!-- filezilla -->
<defs><linearGradient id="fzg" x1="0" y1="0" x2="0" y2="1"><stop offset="0" stop-color="#c40202"/><stop offset="1" stop-color="#980000"/></linearGradient></defs>
<rect x="1140" y="1027" width="36" height="36" fill="url(#fzg)"/>
<rect x="1139.700" y="1026.700" width="36.600" height="36.600" fill="none" stroke="#5a1219" stroke-width="1.700" stroke-dasharray="1.300 1.750" stroke-dashoffset=".6"/>
<path d="M1145 1055.500 L1150.600 1032 H1166 L1165 1036.700 H1156.200 L1155.200 1041.200 H1162.300 L1161.400 1045.500 H1154.200 L1151.800 1055.500Z" fill="#fff"/>
<path d="M1161.500 1041.200 H1171 L1170.200 1045 L1161.500 1053.200 H1169.600 L1168.600 1058 H1153.500 L1154.400 1054 L1163.500 1045.500 H1160.500Z" fill="#fff"/>
<rect x="1153.800" y="1069.500" width="9" height="4" rx="2" fill="#a58d98"/>
<!-- photoshop -->
<rect x="1208.600" y="1029.100" width="30.300" height="28.750" rx="4.800" fill="#071d26" stroke="#27c8fd" stroke-width="2.800"/>
<text x="1223.900" y="1050.200" font-family="Liberation Sans" font-size="20.500" fill="#d9f4ff" stroke="#d9f4ff" stroke-width=".45" text-anchor="middle" textLength="18.600" lengthAdjust="spacingAndGlyphs">Ps</text>
<rect x="1219.500" y="1069.500" width="9" height="4" rx="2" fill="#a58d98"/>
<!-- tray -->
<defs><linearGradient id="wmp" x1="0" y1="0" x2="0" y2="1"><stop offset="0" stop-color="#0cc416"/><stop offset="1" stop-color="#0a8a14"/></linearGradient></defs>
<path d="M1626.900 1048 L1636 1038.700 L1645.100 1048" fill="none" stroke="#fff" stroke-width="1.400"/>
<rect x="1660.400" y="1032.400" width="23.100" height="23.100" rx="2.600" fill="none" stroke="#0a9c16" stroke-width="1.200"/>
<path d="M1663.200 1037.500 Q1663.200 1035 1665.500 1035 H1667.300 V1048.200 H1669 V1042.500 H1675.400 V1048.200 H1677 V1035 H1678.800 Q1681.100 1035 1681.100 1037.500 V1049.500 L1679 1053 H1665.300 L1663.200 1049.500Z" fill="url(#wmp)"/>
<rect x="1669" y="1042.500" width="6.400" height="6" fill="#3aa844"/>
<path d="M1697.600 1035 V1038.500 M1701.600 1035 V1038.500" stroke="#fff" stroke-width="1.200"/>
<path d="M1696.200 1038.300 H1703 V1041.500 Q1703 1044.600 1699.600 1044.600 Q1696.200 1044.600 1696.200 1041.500Z" fill="none" stroke="#fff" stroke-width="1.100"/>
<path d="M1699.600 1044.600 V1050.900" stroke="#fff" stroke-width="1.200"/>
<path d="M1703.500 1038.600 H1718.600 V1050.300 H1700.500" fill="none" stroke="#fff" stroke-width="1.200"/>
<rect x="1719" y="1042.200" width="1.300" height="4.600" fill="#fff"/>
<path d="M1703.800 1040.400 H1713 V1048.900 H1701.500 V1045.500 Q1703.800 1044.500 1703.800 1041.500Z" fill="#fff"/>
<!-- notifications -->
<path d="M1858 1032.200 H1882 V1050.900 H1866.800 L1866.800 1056.500 L1861.200 1050.900 H1858Z" fill="#fff"/>
<g stroke="#651a17" stroke-width="1"><path d="M1863 1037.900 H1877.300 M1863 1041.300 H1877.300 M1863 1045 H1871.900"/></g>
<circle cx="1881.200" cy="1055.400" r="12.800" fill="#3b2a2c" stroke="#6e5d5e" stroke-width="1"/>
<text x="1881.200" y="1061.700" font-family="Liberation Sans" font-weight="bold" font-size="17" fill="#fff" text-anchor="middle" textLength="16.500" lengthAdjust="spacingAndGlyphs">12</text>
<rect x="1912.500" y="1008" width="1" height="71" fill="#8a7a7a"/>
</svg>
<div class="t" id="time" style="left:1763px;top:1020px;font-size:18.500px;color:#fff;transform:scaleX(.9);transform-origin:left">17:02</div>
<div class="t" id="date" style="left:1735.900px;top:1051.900px;font-size:18.500px;color:#fff;transform:scaleX(1.008);transform-origin:left">01/04/2025</div>
</div>
</body>
</html>
